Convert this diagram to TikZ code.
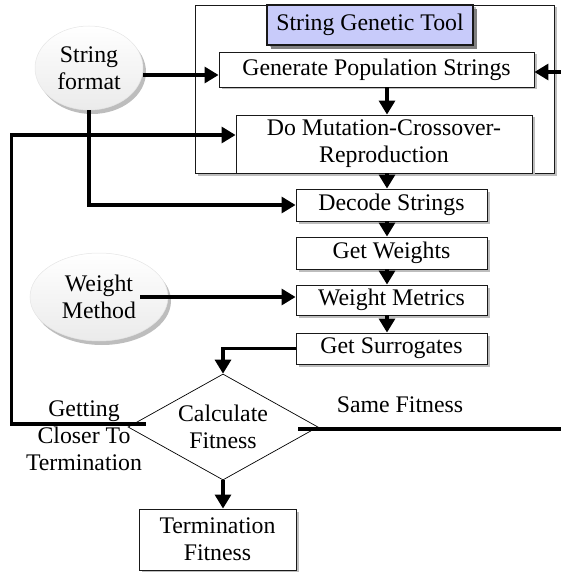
\documentclass[tikz,border=0pt]{standalone}
\usepackage{fontspec}
\setmainfont{Liberation Serif}
\usepackage{xcolor}
\usepackage{tikz}
\usetikzlibrary{arrows.meta,calc,shapes.geometric,shadows}
\definecolor{toolblue}{HTML}{C8CBFA}
\definecolor{shadegray}{HTML}{BDBDBD}

\begin{document}
\begin{tikzpicture}[x=1pt,y=-1pt,
  font=\fontsize{23.8}{27}\selectfont,
  box/.style={draw=black!90,line width=0.9pt,fill=white,inner sep=0pt,align=center,
    drop shadow={shadow xshift=2.5pt,shadow yshift=-2.5pt,fill=shadegray,opacity=1}},
  oval/.style={ellipse,draw=black!10,line width=0.5pt,inner sep=0pt,align=center,
    top color=white,bottom color=black!8,
    drop shadow={shadow xshift=3pt,shadow yshift=-4pt,fill=shadegray,opacity=1}},
  dia/.style={diamond,draw,line width=0.7pt,inner sep=0pt,align=center,fill=white},
  arr/.style={line width=3.2pt,-{Triangle[length=14pt,width=16pt]}}]
  \useasboundingbox (0,0) rectangle (560,572);
  % tool frame and its steps
  \node[box,minimum width=359pt,minimum height=168pt] (tool) at (374.5,89) {};
  \node[box,fill=toolblue,line width=1.9pt,minimum width=206pt,minimum height=40pt,
    drop shadow={shadow xshift=4pt,shadow yshift=-4pt,fill=black!50,opacity=1}] (title) at (370,25) {String Genetic Tool};
  \node[box,minimum width=315pt,minimum height=35pt] (gen) at (376.5,69.5) {Generate Population Strings};
  \node[box,minimum width=296pt,minimum height=58pt] (mut) at (384,144) {Do Mutation-Crossover-\\Reproduction};
  % chain below
  \node[box,minimum width=191pt,minimum height=32pt] (dec) at (391.5,205) {Decode Strings};
  \node[box,minimum width=191pt,minimum height=32pt] (gw) at (391.5,253) {Get Weights};
  \node[box,minimum width=191pt,minimum height=30pt] (wmx) at (391.5,300) {Weight Metrics};
  \node[box,minimum width=191pt,minimum height=31pt] (gs) at (391.5,348.5) {Get Surrogates};
  \node[dia,aspect=1.79,minimum width=190pt,minimum height=106pt] (calc) at (223,427) {Calculate\\Fitness};
  \node[box,minimum width=157pt,minimum height=61pt] (term) at (217.5,539.5) {Termination\\Fitness};
  % inputs
  \node[oval,minimum width=108pt,minimum height=84pt] (sf) at (89,68) {String\\format};
  \node[oval,minimum width=138pt,minimum height=88pt] (wm) at (99,297) {Weight\\Method};
  % branch labels
  \node[align=center] (closer) at (84,436) {Getting\\Closer To\\Termination};
  \node (same) at (400,405) {Same Fitness};

  \coordinate (ax) at (387,0);
  \coordinate (sfo) at ($(sf.east)+(0,7)$);
  \coordinate (wmo) at ($(wm.east)+(-28,0)$);
  \coordinate (lo) at ($(calc.west)+(18,-3)$);
  \coordinate (ro) at ($(calc.east)+(-20,2)$);
  \coordinate (mutin) at ($(mut.west)+(0,-9)$);
  \coordinate (genin) at ($(gen.east)+(0,2.5)$);

  \draw[arr] (gen.south -| ax) -- (mut.north -| ax);
  \draw[arr] (mut.south -| ax) -- (dec.north -| ax);
  \draw[arr] (dec.south -| ax) -- (gw.north -| ax);
  \draw[arr] (gw.south -| ax) -- (wmx.north -| ax);
  \draw[arr] (wmx.south -| ax) -- (gs.north -| ax);
  \draw[arr] (gs.west) -| (calc.north);
  \draw[arr] (calc.south) -- (calc.south |- term.north);
  \draw[arr] (sfo) -- (sfo -| gen.west);
  \draw[arr] (sf.south) |- (dec.west);
  \draw[arr] (wmo) -- (wmo -| wmx.west);
  % loops back into the tool
  \draw[arr] (lo) -- ++(-134,0) |- (mutin);
  \draw[arr] (ro) -- ++(270,0) |- (genin);
\end{tikzpicture}
\end{document}
